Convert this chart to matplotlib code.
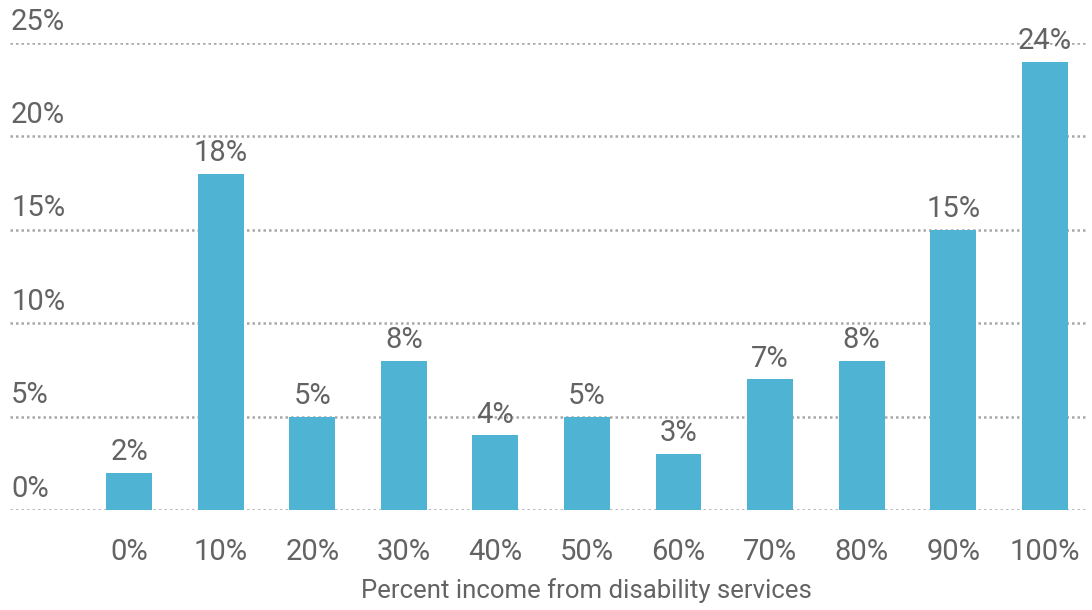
import matplotlib
matplotlib.use("Agg")
import matplotlib.pyplot as plt
from matplotlib import font_manager

categories = ["0%", "10%", "20%", "30%", "40%", "50%", "60%", "70%", "80%", "90%", "100%"]
shares = [2, 18, 5, 8, 4, 5, 3, 7, 8, 15, 24]
y_ticks = [0, 5, 10, 15, 20, 25]
x_title = "Percent income from disability services"

names = {f.name for f in font_manager.fontManager.ttflist}
family = "Liberation Sans Narrow" if "Liberation Sans Narrow" in names else "Roboto"
plt.rcParams["font.family"] = [family, "DejaVu Sans"]

bar_color = "#4fb3d4"
text_color = "#636363"
fs = 21

fig = plt.figure(figsize=(10.92, 6.10), dpi=100)
ax = fig.add_axes([10 / 1092, 1 - 510 / 610, 1077 / 1092, 467 / 610])

x = list(range(len(categories)))
ax.bar(x, shares, width=0.5, color=bar_color, zorder=2)

for xi, v in zip(x, shares):
    ax.text(xi, v + 0.35, f"{v}%", ha="center", va="bottom",
            fontsize=fs, color=text_color, clip_on=False)

# dotted gridlines with labels sitting above them on the left
for t in y_ticks:
    ax.axhline(t, color="#a8a8a8", linestyle=(0, (1, 1.2)), linewidth=1.8, zorder=1)
    ax.text(0.001, t + 0.4, f"{t}%", transform=ax.get_yaxis_transform(),
            ha="left", va="bottom", fontsize=fs, color=text_color)

ax.set_xlim(-1.30, 10.46)
ax.set_ylim(0, 25)
ax.set_xticks(x)
ax.set_xticklabels(categories, fontsize=fs, color=text_color)
ax.tick_params(axis="x", length=0, pad=20)
ax.set_yticks([])
ax.set_xlabel(x_title, fontsize=18.5, color=text_color)
ax.xaxis.set_label_coords(0.535, -0.145)
for s in ax.spines.values():
    s.set_visible(False)

fig.savefig("out.png", dpi=100)
